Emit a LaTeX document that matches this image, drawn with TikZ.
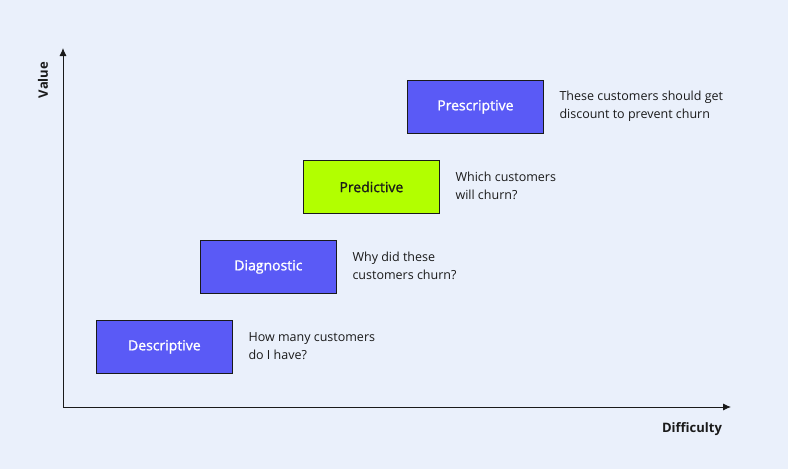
\documentclass[tikz,border=0pt]{standalone}
\usepackage{fontspec}
\setmainfont{Open Sans}
\newfontfamily\semib[FakeBold=1.2]{Open Sans}
\usetikzlibrary{arrows.meta}
\definecolor{bg}{HTML}{EAF0FB}
\definecolor{bblue}{HTML}{5A5AF6}
\definecolor{bgreen}{HTML}{B2FF00}
\definecolor{ink}{HTML}{1A1A1A}
\begin{document}
\begin{tikzpicture}[x=1pt,y=-1pt,
  box/.style={draw=ink,line width=0.8pt,minimum width=136pt,minimum height=53pt,inner sep=0pt,font=\semib\fontsize{14}{16}\selectfont,anchor=north west},
  bb/.style={box,fill=bblue,text=white},
  desc/.style={anchor=west,align=left,font=\fontsize{12.5}{17.5}\selectfont,text=ink},
  ax/.style={line width=0.9pt,draw=ink,-{Latex[length=8pt,width=7pt]}}]
\fill[bg] (0,0) rectangle (788,469);
\useasboundingbox (0,0) rectangle (788,469);
\coordinate (o) at (63,407);
\coordinate (yt) at (63,48);
\coordinate (xt) at (731,407);
\draw[ax] (o) -- (yt);
\draw[ax] (o) -- (xt);
\node[rotate=90,font=\fontsize{13}{15}\selectfont\bfseries,text=ink] (v) at (43,80) {Value};
\node[font=\fontsize{13}{15}\selectfont\bfseries,text=ink] (d) at (692,429) {Difficulty};
\node[bb] (b1) at (96,320) {Descriptive};
\node[bb] (b2) at (200,240) {Diagnostic};
\node[box,fill=bgreen,text=ink] (b3) at (303,160) {Predictive};
\node[bb] (b4) at (407,80) {Prescriptive};
\node[desc] (t1) at (245,346) {How many customers\\do I have?};
\node[desc] (t2) at (349,266) {Why did these\\customers churn?};
\node[desc] (t3) at (452,186) {Which customers\\will churn?};
\node[desc] (t4) at (556,106) {These customers should get\\discount to prevent churn};
\end{tikzpicture}
\end{document}
